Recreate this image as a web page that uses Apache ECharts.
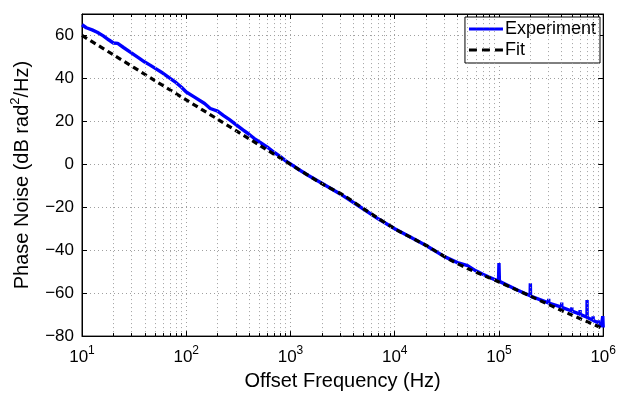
<!DOCTYPE html>
<html lang="en">
<head>
  <meta charset="UTF-8">
  <title>Phase noise</title>
  <style>html,body{margin:0;padding:0;background:#fff}</style>
</head>
<body>
  <div id="main" style="width:619px;height:396px;"></div>
  <script src="https://cdn.jsdelivr.net/npm/echarts@6/dist/echarts.min.js"></script>
  <script>
  // measured experiment trace (Hz, dB rad^2/Hz)
  var expFreq = [10, 11, 12.5, 14, 16, 18, 20, 22, 25, 30, 35, 40, 45, 50, 60, 70, 80, 90,
    100, 120, 150, 170, 200, 230, 260, 300, 350, 400, 450, 500, 600, 700, 800, 900,
    1000, 1200, 1500, 2000, 3000, 5000, 7000, 10000, 15000, 20000, 30000, 40000, 50000,
    60000, 70000, 80000, 90000, 99000, 100000, 101000, 150000, 199000, 200000, 201000,
    299000, 300000, 301000, 399000, 400000, 401000, 499000, 500000, 501000,
    599000, 600000, 601000, 699000, 700000, 701000, 799000, 800000, 801000,
    899000, 900000, 901000, 960000, 990000, 1000000]
  var expVal = [65.0, 63.6, 62.6, 61.5, 59.8, 58.0, 56.5, 56.3, 54.4, 51.8, 49.6, 47.6, 46.2, 44.8, 42.4, 40.0, 38.0, 35.9,
    33.7, 31.3, 28.3, 26.0, 24.8, 22.6, 20.8, 18.5, 16.0, 14.0, 12.0, 10.5, 8.0, 5.5, 3.6, 1.6,
    0.2, -2.4, -5.3, -8.8, -13.8, -20.8, -25.5, -30.0, -34.6, -37.8, -43.0, -45.8, -47.2,
    -49.6, -51.2, -52.5, -53.6, -54.3, -46.0, -54.5, -58.5, -61.2, -55.4, -61.4,
    -64.5, -62.6, -64.6, -66.5, -64.4, -66.6, -68.3, -66.6, -68.4,
    -69.8, -67.9, -69.9, -71.2, -63.2, -71.3, -72.6, -70.8, -72.7,
    -73.8, -72.6, -74.0, -75.5, -70.7, -76.0]

  // fitted model
  var fitFreq = [10, 20, 50, 100, 200, 500, 1000, 2000, 3300, 5000, 10000, 20000, 34000, 50000,
    100000, 200000, 500000, 1000000]
  var fitVal = [60, 51, 39, 30, 21, 9, 0, -9.0, -14.7, -20.6, -30.0, -37.8, -44.5, -48.5,
    -54.8, -61.4, -70.2, -76.5]

  var decades = [10, 100, 1000, 10000, 100000]
  var minorSteps = [2, 3, 4, 5, 6, 7, 8, 9]
  var yTicks = [-80, -60, -40, -20, 0, 20, 40, 60]

  var font = 'Liberation Sans, Arial, Helvetica, sans-serif'
  var gridStyle = { color: '#a0a0a0', type: [1, 3], width: 1 }
  var tickStyle = { color: '#000', type: 'solid', width: 1 }

  var minorFreqs = []
  decades.forEach(function (d) {
    minorSteps.forEach(function (m) { minorFreqs.push(d * m) })
  })
  var marks = []
  minorFreqs.forEach(function (f) {
    marks.push([{ coord: [f, -80] }, { coord: [f, 70] }])
  })
  minorFreqs.forEach(function (f) {
    marks.push([{ coord: [f, -80], lineStyle: tickStyle }, { coord: [f, -78.6] }])
    marks.push([{ coord: [f, 70], lineStyle: tickStyle }, { coord: [f, 68.6] }])
  })

  var myChart = echarts.init(document.getElementById('main'))
  var option = {
    animation: false,
    textStyle: { fontFamily: font },
    grid: { left: 82, right: 14, top: 14, bottom: 56, show: true, borderColor: '#000', borderWidth: 1 },
    legend: {
      right: 19, top: 17,
      orient: 'vertical',
      backgroundColor: '#fff',
      borderColor: '#000', borderWidth: 1,
      padding: [3, 4, 4, 4],
      itemGap: 3,
      itemWidth: 34, itemHeight: 3,
      symbolKeepAspect: false,
      align: 'left',
      textStyle: { fontFamily: font, fontSize: 18, color: '#000', padding: [0, 0, 0, -3] },
      data: [
        { name: 'Experiment', icon: 'path://M0,0h34v3.4h-34z' },
        { name: 'Fit', icon: 'path://M0,0h8v3.4h-8zM13,0h8v3.4h-8zM26,0h8v3.4h-8z' }
      ]
    },
    xAxis: [{
      type: 'log', logBase: 10, min: 10, max: 1000000,
      name: 'Offset Frequency (Hz)', nameLocation: 'middle', nameGap: 33,
      nameTextStyle: { fontFamily: font, fontSize: 20, color: '#000' },
      axisLine: { onZero: false, lineStyle: { color: '#000' } },
      axisTick: { inside: true, length: 5, lineStyle: { color: '#000' } },
      splitLine: { show: true, lineStyle: gridStyle },
      axisLabel: {
        margin: 10,
        formatter: function (v) {
          return '{b|10}{e|' + Math.round(Math.log10(v)) + '}'
        },
        rich: {
          b: { fontFamily: font, fontSize: 17, color: '#000', verticalAlign: 'bottom', lineHeight: 20 },
          e: { fontFamily: font, fontSize: 12, color: '#000', verticalAlign: 'bottom', padding: [0, 0, 9, 0], lineHeight: 20 }
        }
      }
    }, {
      type: 'log', logBase: 10, min: 10, max: 1000000, position: 'top',
      axisLine: { onZero: false, lineStyle: { color: '#000' } },
      axisTick: { inside: true, length: 5, lineStyle: { color: '#000' } },
      axisLabel: { show: false },
      splitLine: { show: false }
    }],
    yAxis: [{
      type: 'value', min: -80, max: 70, interval: 20,
      name: '{a|Phase Noise (dB rad}{s|2}{a|/Hz)}', nameLocation: 'middle', nameGap: 50,
      nameTextStyle: {
        rich: {
          a: { fontFamily: font, fontSize: 20, color: '#000', verticalAlign: 'bottom', lineHeight: 22 },
          s: { fontFamily: font, fontSize: 13, color: '#000', verticalAlign: 'bottom', padding: [0, 0, 10, 0], lineHeight: 22 }
        }
      },
      axisLine: { onZero: false, lineStyle: { color: '#000' } },
      axisTick: { inside: true, length: 5, lineStyle: { color: '#000' } },
      splitLine: { show: true, lineStyle: gridStyle },
      axisLabel: {
        margin: 8, fontFamily: font, fontSize: 17, color: '#000',
        formatter: function (v) {
          return yTicks.indexOf(v) >= 0 ? String(v).replace('-', '\u2212') : ''
        }
      }
    }, {
      type: 'value', min: -80, max: 70, interval: 20, position: 'right',
      axisLine: { onZero: false, lineStyle: { color: '#000' } },
      axisTick: { inside: true, length: 5, lineStyle: { color: '#000' } },
      axisLabel: { show: false },
      splitLine: { show: false }
    }],
    series: [{
      name: 'grid',
      type: 'line',
      data: [],
      silent: true,
      markLine: {
        silent: true, symbol: ['none', 'none'], label: { show: false },
        lineStyle: gridStyle,
        data: marks
      }
    }, {
      name: 'Experiment',
      type: 'line',
      showSymbol: false, symbol: 'none',
      color: '#0000ff',
      lineStyle: { color: '#0000ff', width: 3.4 },
      data: expFreq.map(function (f, i) { return [f, expVal[i]] })
    }, {
      name: 'Fit',
      type: 'line',
      showSymbol: false, symbol: 'none',
      color: '#000',
      smooth: 0.3,
      lineStyle: { color: '#000', width: 3.2, type: [6, 4] },
      data: fitFreq.map(function (f, i) { return [f, fitVal[i]] })
    }]
  }
  myChart.setOption(option)
  </script>
</body>
</html>
